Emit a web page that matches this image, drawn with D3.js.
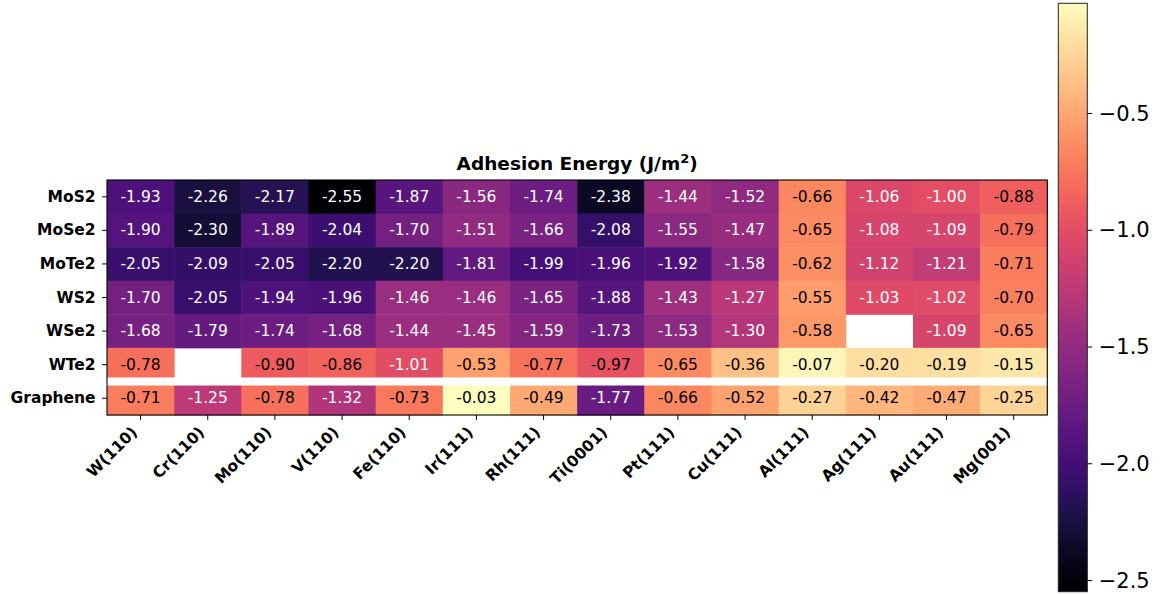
<!DOCTYPE html>
<html>
<head>
<meta charset="utf-8">
<script src="https://cdn.jsdelivr.net/npm/d3@7"></script>
<style>
  html, body { margin: 0; padding: 0; background: #fff; }
  svg { display: block; font-family: "DejaVu Sans", sans-serif; }
</style>
</head>
<body>
<svg id="chart" width="1167" height="594"></svg>
<script>
// ---- data ----
const materials = ["MoS2", "MoSe2", "MoTe2", "WS2", "WSe2", "WTe2", "Graphene"];
const metals = ["W(110)", "Cr(110)", "Mo(110)", "V(110)", "Fe(110)", "Ir(111)", "Rh(111)",
                "Ti(0001)", "Pt(111)", "Cu(111)", "Al(111)", "Ag(111)", "Au(111)", "Mg(001)"];
const MoS2     = [-1.93, -2.26, -2.17, -2.55, -1.87, -1.56, -1.74, -2.38, -1.44, -1.52, -0.66, -1.06, -1.00, -0.88];
const MoSe2    = [-1.90, -2.30, -1.89, -2.04, -1.70, -1.51, -1.66, -2.08, -1.55, -1.47, -0.65, -1.08, -1.09, -0.79];
const MoTe2    = [-2.05, -2.09, -2.05, -2.20, -2.20, -1.81, -1.99, -1.96, -1.92, -1.58, -0.62, -1.12, -1.21, -0.71];
const WS2      = [-1.70, -2.05, -1.94, -1.96, -1.46, -1.46, -1.65, -1.88, -1.43, -1.27, -0.55, -1.03, -1.02, -0.70];
const WSe2     = [-1.68, -1.79, -1.74, -1.68, -1.44, -1.45, -1.59, -1.73, -1.53, -1.30, -0.58, null, -1.09, -0.65];
const WTe2     = [-0.78, null, -0.90, -0.86, -1.01, -0.53, -0.77, -0.97, -0.65, -0.36, -0.07, -0.20, -0.19, -0.15];
const Graphene = [-0.71, -1.25, -0.78, -1.32, -0.73, -0.03, -0.49, -1.77, -0.66, -0.52, -0.27, -0.42, -0.47, -0.25];
const rows = [MoS2, MoSe2, MoTe2, WS2, WSe2, WTe2, Graphene];
const colorbarTicks = [-2.5, -2.0, -1.5, -1.0, -0.5];
const title = "Adhesion Energy (J/m";

// ---- build ----
const cells = [];
rows.forEach((r, i) => r.forEach((v, j) => cells.push({ mat: materials[i], metal: metals[j], v })));
const allVals = cells.filter(d => d.v !== null).map(d => d.v);
const vmin = d3.min(allVals), vmax = d3.max(allVals);

const svg = d3.select("#chart");
const L = 107, R = 1047.3, T = 180, B = 415;

const x = d3.scaleBand().domain(metals).range([L, R]).padding(0);
const y = d3.scaleBand().domain(materials).range([T, B]).padding(0);
const color = d3.scaleSequential(d3.interpolateMagma).domain([vmin, vmax]);

// cells
svg.append("g").selectAll("rect").data(cells.filter(d => d.v !== null)).join("rect")
  .attr("x", d => x(d.metal)).attr("y", d => y(d.mat))
  .attr("width", x.bandwidth() + 0.5).attr("height", y.bandwidth() + 0.5)
  .attr("fill", d => color(d.v));

// annotations
svg.append("g").selectAll("text").data(cells.filter(d => d.v !== null)).join("text")
  .attr("x", d => x(d.metal) + x.bandwidth() / 2)
  .attr("y", d => y(d.mat) + y.bandwidth() / 2)
  .attr("text-anchor", "middle").attr("dominant-baseline", "central")
  .attr("font-size", 15.5)
  .attr("fill", d => d.v <= -1.0 ? "#ffffff" : "#000000")
  .text(d => d.v.toFixed(2));

// white separator between WTe2 and Graphene
const sepY = y("Graphene");
svg.append("line").attr("x1", L).attr("x2", R).attr("y1", sepY).attr("y2", sepY)
  .attr("stroke", "#ffffff").attr("stroke-width", 8);

// border
svg.append("rect").attr("x", L).attr("y", T).attr("width", R - L).attr("height", B - T)
  .attr("fill", "none").attr("stroke", "#000").attr("stroke-width", 1.1);

// x axis
const xAxis = svg.append("g").attr("transform", `translate(0,${B})`)
  .call(d3.axisBottom(x).tickSize(4.9).tickPadding(0));
xAxis.select(".domain").remove();
xAxis.selectAll(".tick line").attr("stroke", "#000").attr("stroke-width", 1);
xAxis.selectAll(".tick text")
  .attr("font-family", "DejaVu Sans").attr("font-weight", "bold").attr("font-size", 15.5)
  .attr("fill", "#000")
  .attr("text-anchor", "end").attr("dy", null).attr("y", null)
  .attr("transform", "translate(-2.4,18.2) rotate(-45)");

// y axis
const yAxis = svg.append("g").attr("transform", `translate(${L},0)`)
  .call(d3.axisLeft(y).tickSize(4.9).tickPadding(6.5));
yAxis.select(".domain").remove();
yAxis.selectAll(".tick line").attr("stroke", "#000").attr("stroke-width", 1);
yAxis.selectAll(".tick text")
  .attr("font-family", "DejaVu Sans").attr("font-weight", "bold").attr("font-size", 15.5)
  .attr("fill", "#000").attr("dy", null).attr("dominant-baseline", "central");

// title
const t = svg.append("text").attr("x", (L + R) / 2).attr("y", 170)
  .attr("text-anchor", "middle").attr("font-weight", "bold").attr("font-size", 18.5).attr("fill", "#000");
t.append("tspan").text(title);
t.append("tspan").attr("font-size", 13).attr("dy", -7).text("2");
t.append("tspan").attr("dy", 7).text(")");

// colorbar
const cbL = 1058.3, cbW = 29, cbT = 3.3, cbB = 591.7;
const cbScale = d3.scaleLinear().domain([vmin, vmax]).range([cbB, cbT]);
const defs = svg.append("defs");
const grad = defs.append("linearGradient").attr("id", "cbgrad")
  .attr("x1", 0).attr("y1", 1).attr("x2", 0).attr("y2", 0);
d3.range(0, 1.0001, 0.02).forEach(p => {
  grad.append("stop").attr("offset", p).attr("stop-color", d3.interpolateMagma(p));
});
svg.append("rect").attr("x", cbL).attr("y", cbT).attr("width", cbW).attr("height", cbB - cbT)
  .attr("fill", "url(#cbgrad)").attr("stroke", "#222").attr("stroke-width", 1);
const cbAxis = svg.append("g").attr("transform", `translate(${cbL + cbW},0)`)
  .call(d3.axisRight(cbScale).tickValues(colorbarTicks).tickFormat(d3.format(".1f")).tickSize(4.9).tickPadding(6.5));
cbAxis.select(".domain").remove();
cbAxis.selectAll(".tick line").attr("stroke", "#000");
cbAxis.selectAll(".tick text").attr("font-family", "DejaVu Sans").attr("font-size", 21)
  .attr("fill", "#000").attr("dy", null).attr("dominant-baseline", "central");
</script>
</body>
</html>
